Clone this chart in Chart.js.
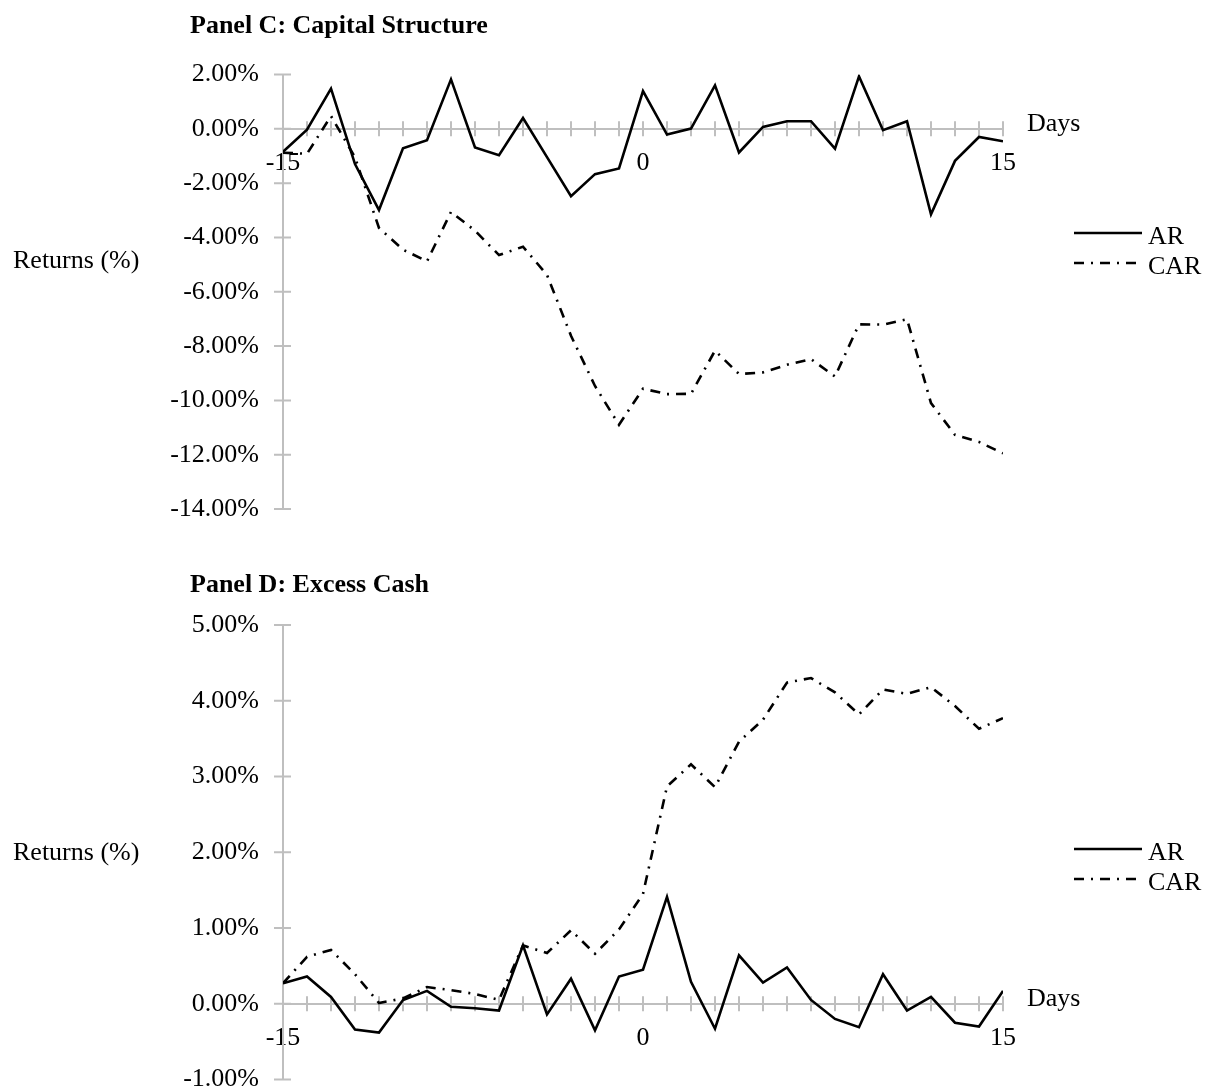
<!DOCTYPE html>
<html>
<head>
<meta charset="utf-8">
<title>Panel C / Panel D</title>
<script src="https://cdn.jsdelivr.net/npm/chart.js@4.4.1/dist/chart.umd.min.js"></script>
<style>
  html, body { margin: 0; padding: 0; background: #fff; overflow: hidden; }
  #wrap { position: relative; width: 1213px; height: 1092px; overflow: hidden; }
  canvas { position: absolute; left: 0; }
  #chartC { top: 0; }
  #chartD { top: 546px; }
</style>
</head>
<body>
<div id="wrap">
  <canvas id="chartC" width="1213" height="546"></canvas>
  <canvas id="chartD" width="1213" height="546"></canvas>
</div>
<script>
// event window
const days = [-15, -14, -13, -12, -11, -10, -9, -8, -7, -6, -5, -4, -3, -2, -1, 0,
  1, 2, 3, 4, 5, 6, 7, 8, 9, 10, 11, 12, 13, 14, 15];
const xTickLabels = [-15, 0, 15];
const seriesNames = ['AR', 'CAR'];

// Panel C: Capital Structure (returns in %)
const arCapital = [-0.85, -0.03, 1.48, -1.30, -2.99, -0.72, -0.42, 1.82, -0.69, -0.97, 0.40, -1.04, -2.48, -1.67, -1.46, 1.39,
  -0.21, 0.01, 1.60, -0.87, 0.07, 0.28, 0.28, -0.73, 1.93, -0.05, 0.28, -3.15, -1.18, -0.30, -0.46];
const carCapital = [-0.88, -0.92, 0.47, -1.05, -3.65, -4.45, -4.88, -3.06, -3.75, -4.65, -4.34, -5.38, -7.62, -9.47, -10.90, -9.57,
  -9.77, -9.76, -8.17, -9.03, -8.97, -8.69, -8.48, -9.12, -7.20, -7.21, -7.01, -10.10, -11.27, -11.53, -11.95];
const yRangeCapital = [-14, 2];
const yStepCapital = 2;

// Panel D: Excess Cash (returns in %)
const arCash = [0.27, 0.36, 0.09, -0.34, -0.38, 0.05, 0.17, -0.04, -0.06, -0.09, 0.77, -0.14, 0.33, -0.35, 0.36, 0.45,
  1.41, 0.29, -0.33, 0.64, 0.28, 0.48, 0.05, -0.20, -0.31, 0.39, -0.09, 0.09, -0.25, -0.30, 0.17];
const carCash = [0.27, 0.62, 0.71, 0.39, 0.01, 0.07, 0.22, 0.18, 0.13, 0.05, 0.77, 0.67, 0.97, 0.66, 0.98, 1.45,
  2.87, 3.16, 2.86, 3.46, 3.75, 4.24, 4.30, 4.11, 3.82, 4.15, 4.09, 4.18, 3.93, 3.63, 3.77];
const yRangeCash = [-1, 5];
const yStepCash = 1;

const FONT = "'Liberation Serif', 'Times New Roman', serif";
const GREY = '#bfbfbf';
Chart.defaults.font.family = FONT;
Chart.defaults.font.size = 26;
Chart.defaults.color = '#000';

// axis tick marks crossing the axes, titles, "Days" and legend
const panelDecor = {
  id: 'panelDecor',
  beforeDatasetsDraw(chart) {
    const { ctx, scales: { x, y } } = chart;
    const y0 = y.getPixelForValue(0);
    ctx.save();
    ctx.strokeStyle = GREY;
    ctx.lineWidth = 2;
    ctx.beginPath();
    x.ticks.forEach((t) => {
      const px = x.getPixelForValue(t.value);
      ctx.moveTo(px, y0 - 7.5);
      ctx.lineTo(px, y0 + 7.5);
    });
    y.ticks.forEach((t) => {
      const py = y.getPixelForValue(t.value);
      ctx.moveTo(x.left - 9, py);
      ctx.lineTo(x.left + 8, py);
    });
    ctx.stroke();
    ctx.restore();
  },
  afterDraw(chart, args, opts) {
    const { ctx, chartArea, scales: { y } } = chart;
    ctx.save();
    ctx.fillStyle = '#000';
    ctx.textBaseline = 'alphabetic';
    ctx.textAlign = 'left';

    ctx.font = 'bold 26px ' + FONT;
    ctx.fillText(opts.title, 190, opts.titleY);

    ctx.font = '26px ' + FONT;
    ctx.fillText('Returns (%)', 13, opts.yTitleY);
    ctx.fillText('Days', chartArea.right + 24, y.getPixelForValue(0) + 2);

    // legend
    chart.data.datasets.forEach((ds, i) => {
      const ly = opts.legendY + i * 30;
      ctx.beginPath();
      ctx.strokeStyle = ds.borderColor;
      ctx.lineWidth = ds.borderWidth;
      ctx.setLineDash(ds.borderDash || []);
      ctx.moveTo(1074, ly);
      ctx.lineTo(1142, ly);
      ctx.stroke();
      ctx.setLineDash([]);
      ctx.fillText(ds.label, 1148, ly + 11);
    });
    ctx.restore();
  }
};

function makePanel(canvasId, ar, car, yRange, yStep, pad, decor) {
  const ctx = document.getElementById(canvasId).getContext('2d');
  return new Chart(ctx, {
    type: 'line',
    data: {
      datasets: [
        {
          label: seriesNames[0],
          data: days.map((d, i) => ({ x: d, y: ar[i] })),
          borderColor: '#000',
          borderWidth: 2.6,
          pointRadius: 0,
          tension: 0,
          fill: false,
        },
        {
          label: seriesNames[1],
          data: days.map((d, i) => ({ x: d, y: car[i] })),
          borderColor: '#000',
          borderWidth: 2.6,
          borderDash: [10, 7, 2, 7],
          pointRadius: 0,
          tension: 0,
          fill: false,
        },
      ],
    },
    options: {
      responsive: false,
      animation: false,
      layout: { padding: pad },
      plugins: {
        legend: { display: false },
        title: { display: false },
        tooltip: { enabled: false },
        panelDecor: decor,
      },
      scales: {
        x: {
          type: 'linear',
          position: { y: 0 },
          min: days[0],
          max: days[days.length - 1],
          afterFit: (s) => { s.height = 0; },
          grid: { display: false, drawTicks: false },
          border: { display: true, color: GREY, width: 2 },
          ticks: {
            stepSize: 1,
            autoSkip: false,
            maxRotation: 0,
            padding: 19,
            callback: (v) => (xTickLabels.includes(v) ? String(v) : ''),
          },
        },
        y: {
          position: 'left',
          min: yRange[0],
          max: yRange[1],
          // fixed axis width, no extra room reserved for end labels
          afterFit: (s) => { s.width = 283; s.paddingTop = 0; s.paddingBottom = 0; },
          grid: { display: false, drawTicks: false },
          border: { display: true, color: GREY, width: 2 },
          ticks: {
            stepSize: yStep,
            padding: 24,
            callback: (v) => v.toFixed(2) + '%',
          },
        },
      },
    },
    plugins: [panelDecor],
  });
}

makePanel('chartC', arCapital, carCapital, yRangeCapital, yStepCapital,
  { left: 0, right: 210, top: 74.5, bottom: 37 },
  { title: 'Panel C: Capital Structure', titleY: 33, yTitleY: 268, legendY: 233 });

makePanel('chartD', arCash, carCash, yRangeCash, yStepCash,
  { left: 0, right: 210, top: 79, bottom: 12.5 },
  { title: 'Panel D: Excess Cash', titleY: 46, yTitleY: 314, legendY: 303 });
</script>
</body>
</html>
